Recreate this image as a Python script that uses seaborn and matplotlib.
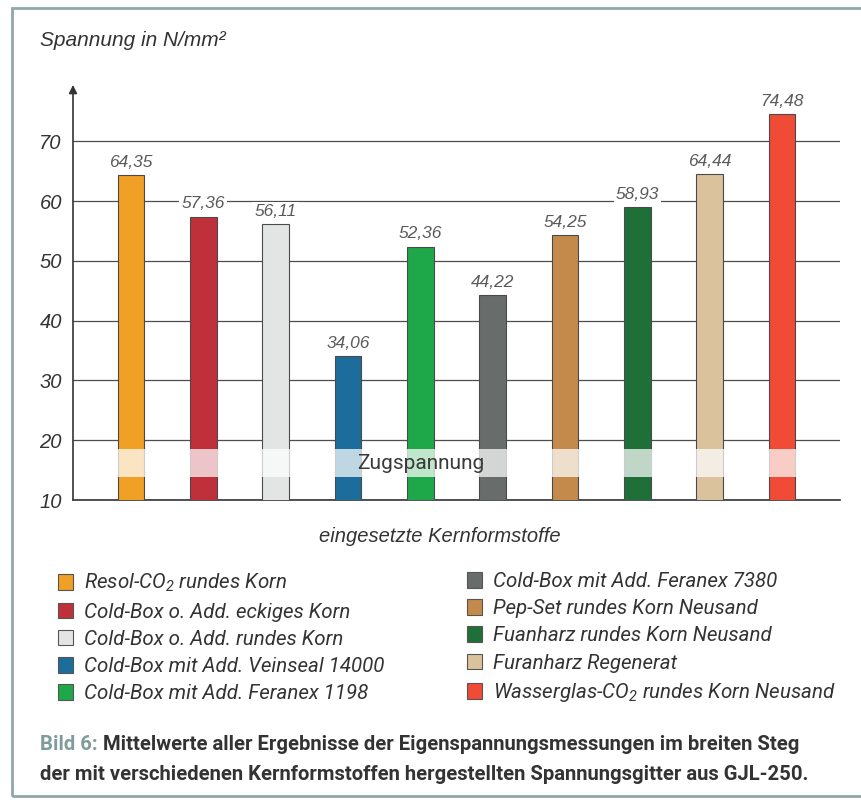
import matplotlib
matplotlib.use("Agg")
import matplotlib.pyplot as plt
from matplotlib import font_manager as fm
from matplotlib.patches import Rectangle, Patch
import seaborn as sns
import pandas as pd

# Core materials, mean residual stress values and bar colours
categories = [
    "Resol-CO$_2$ rundes Korn",
    "Cold-Box o. Add. eckiges Korn",
    "Cold-Box o. Add. rundes Korn",
    "Cold-Box mit Add. Veinseal 14000",
    "Cold-Box mit Add. Feranex 1198",
    "Cold-Box mit Add. Feranex 7380",
    "Pep-Set rundes Korn Neusand",
    "Fuanharz rundes Korn Neusand",
    "Furanharz Regenerat",
    "Wasserglas-CO$_2$ rundes Korn Neusand",
]
values = [64.35, 57.36, 56.11, 34.06, 52.36, 44.22, 54.25, 58.93, 64.44, 74.48]
colors = ["#f0a024", "#c0303a", "#e2e5e4", "#1d6d9c", "#1fa84a",
          "#686c6a", "#c38a4c", "#1f7038", "#d9c29c", "#f04b36"]
yticks = [10, 20, 30, 40, 50, 60, 70]

installed = {f.name for f in fm.fontManager.ttflist}


def pick(*names):
    for n in names:
        if n in installed:
            return n
    return "DejaVu Sans"


text_name = pick("Roboto", "Liberation Sans")
base_name = pick("Liberation Sans", "Roboto")
legend_font = [text_name, "DejaVu Sans"]

sns.set_theme(style="white")
plt.rcParams["font.family"] = [base_name, "DejaVu Sans"]
plt.rcParams["mathtext.fontset"] = "custom"
plt.rcParams["mathtext.rm"] = f"{text_name}:italic"
plt.rcParams["mathtext.it"] = f"{text_name}:italic"

df = pd.DataFrame({"kern": categories, "wert": values})

fig = plt.figure(figsize=(8.62, 8.0), dpi=100)
fig.patch.set_facecolor("white")
ax = fig.add_axes([73 / 862, 1 - 500 / 800, (840 - 73) / 862, (500 - 85) / 800])

sns.barplot(data=df, x="kern", y="wert", hue="kern", order=categories,
            hue_order=categories, palette=colors, dodge=False, legend=False,
            width=0.37, edgecolor="#4a4a4a", linewidth=0.8, saturation=1,
            ax=ax, zorder=3)

ax.set_xlim(-0.8, 9.8)
ax.set_ylim(10, 79.4)
ax.set_yticks(yticks)
ax.set_yticklabels([str(t) for t in yticks], fontstyle="italic",
                   fontsize=14.5, color="#333333")
ax.set_xticks([])
ax.set_xlabel("")
ax.set_ylabel("")
ax.tick_params(axis="y", length=0, pad=8)
ax.yaxis.grid(True, color="#4d4d4d", lw=0.9)
ax.set_axisbelow(True)
for s in ["top", "right", "left"]:
    ax.spines[s].set_visible(False)
ax.spines["bottom"].set_color("#333333")
ax.spines["bottom"].set_linewidth(1.2)

# vertical axis with arrow head
arrow = ax.annotate("", xy=(0, 1), xytext=(0, 0), xycoords="axes fraction",
                    arrowprops=dict(arrowstyle="-|>", color="#333333", lw=1.2,
                                    mutation_scale=12, shrinkA=0, shrinkB=0))
arrow.set_zorder(7)

# value labels
for i, v in enumerate(values):
    ax.text(i, v + 0.9, f"{v:.2f}".replace(".", ","), ha="center", va="bottom",
            fontsize=12.5, fontstyle="italic", color="#5a5a5a", zorder=5,
            bbox=dict(facecolor="white", edgecolor="none", pad=1.5))

# translucent band marking the tensile stress region
ax.axhspan(13.85, 18.5, color="white", alpha=0.72, lw=0, zorder=4)
ax.text(4.0, 16.1, "Zugspannung", ha="center", va="center", fontsize=15,
        color="#3a3a3a", zorder=6, family=[text_name])

fig.text(40 / 862, 1 - 40 / 800, "Spannung in N/mm²", fontsize=15,
         fontstyle="italic", color="#333333", va="center")
fig.text(440 / 862, 1 - 537 / 800, "eingesetzte Kernformstoffe", fontsize=14.5,
         fontstyle="italic", color="#333333", va="center", ha="center")

# legend in two columns
handles = [Patch(facecolor=c, edgecolor="#555555", lw=0.8) for c in colors]
leg_kw = dict(frameon=False, handlelength=0.72, handleheight=0.8,
              handletextpad=0.55, labelspacing=0.4, borderpad=0,
              borderaxespad=0, loc="upper left",
              prop=dict(family=legend_font, style="italic", size=14.8))
leg1 = fig.legend(handles[:5], categories[:5],
                  bbox_to_anchor=(58 / 862, 1 - 572 / 800), **leg_kw)
leg2 = fig.legend(handles[5:], categories[5:],
                  bbox_to_anchor=(467 / 862, 1 - 572 / 800), **leg_kw)
for leg in (leg1, leg2):
    for t in leg.get_texts():
        t.set_color("#333333")

# caption
cap_size = 14.6
cap_font = [text_name, "DejaVu Sans"]
t1 = fig.text(40 / 862, 1 - 745 / 800, "Bild 6: ", fontsize=cap_size,
              fontweight="bold", color="#7f9c9c", va="center", family=cap_font)
ax.annotate("Mittelwerte aller Ergebnisse der Eigenspannungsmessungen im breiten Steg",
            xy=(1, 0.5), xycoords=t1, va="center", ha="left", fontsize=cap_size,
            fontweight="bold", color="#333333", family=cap_font,
            annotation_clip=False)
fig.text(40 / 862, 1 - 775 / 800,
         "der mit verschiedenen Kernformstoffen hergestellten Spannungsgitter aus GJL-250.",
         fontsize=cap_size, fontweight="bold", color="#333333", va="center",
         family=cap_font)

# frame around the figure
fig.add_artist(Rectangle((12 / 862, 4 / 800), 1.0, 788 / 800,
                         transform=fig.transFigure, fill=False,
                         edgecolor="#8fa8a8", lw=2, clip_on=False))

fig.savefig("out.png", dpi=100)
